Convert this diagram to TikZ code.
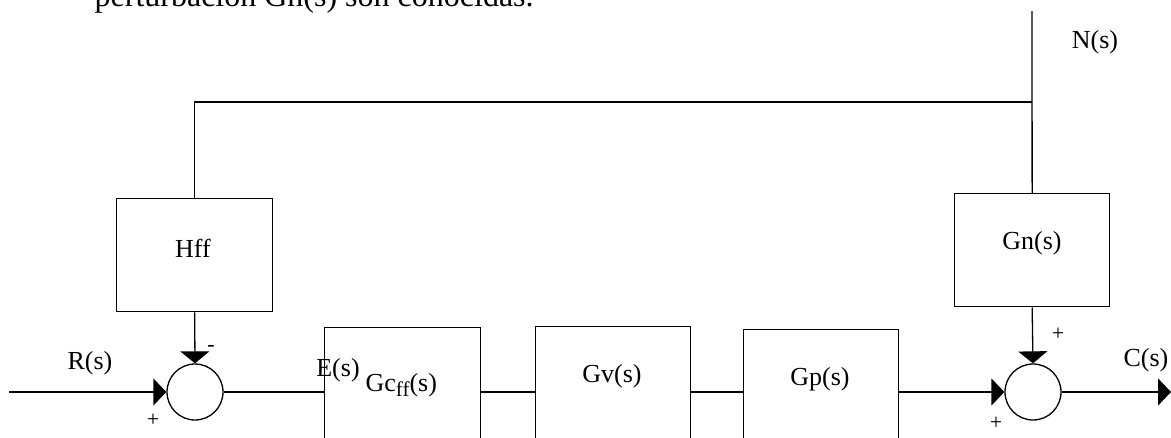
\documentclass[tikz,border=0pt]{standalone}
\usepackage{fontspec}
\setmainfont{Liberation Serif}
\usetikzlibrary{arrows.meta}
\begin{document}
\begin{tikzpicture}[x=1pt,y=-1pt,
  line width=1.3pt,
  block/.style={draw,rectangle,anchor=north west,inner sep=0pt},
  sumjunc/.style={draw,circle,minimum size=56pt,inner sep=0pt},
  lbl/.style={inner sep=0pt,font=\fontsize{26}{30}\selectfont},
  sgn/.style={inner sep=0pt,font=\fontsize{22}{26}\selectfont},
  sig/.style={-{Triangle[length=13pt,width=27pt]}},
  sigv/.style={-{Triangle[length=12pt,width=29pt]}}]
\useasboundingbox (0,0) rectangle (1171,437);
\clip (0,0) rectangle (1171,437);

% running text above the diagram
\node[anchor=base west,inner sep=0pt,font=\fontsize{32}{36}\selectfont] (txt) at (94,6) {perturbación Gn(s) son conocidas.};

% blocks
\node[block,minimum width=156pt,minimum height=113pt] (hff) at (116,198) {};
\node[block,minimum width=155pt,minimum height=113pt] (gn) at (954,193) {};
\node[block,minimum width=156pt,minimum height=160pt] (gc) at (324,327) {};
\node[block,minimum width=155pt,minimum height=160pt] (gv) at (535,326) {};
\node[block,minimum width=155pt,minimum height=160pt] (gp) at (743,329) {};

% summing junctions
\node[sumjunc] (s1) at (195,392) {};
\node[sumjunc] (s2) at (1033,392) {};

% block labels
\node[lbl] (lhff) at (193,248) {Hff};
\node[lbl] (lgn) at (1032,243) {Gn(s)};
\node[lbl,anchor=west] (lgc) at (365,385) {Gc\raisebox{-5pt}{\fontsize{21}{24}\selectfont ff}(s)};
\node[lbl] (lgv) at (612,376) {Gv(s)};
\node[lbl] (lgp) at (820,379) {Gp(s)};

% signal labels
\node[lbl] (lr) at (90,363) {R(s)};
\node[lbl] (le) at (338,370) {E(s)};
\node[lbl] (lc) at (1146,360) {C(s)};
\node[lbl] (ln) at (1095,42) {N(s)};

% signs
\node[sgn] (m1) at (211,348) {-};
\node[sgn] (p1) at (153,420) {+};
\node[sgn] (p2) at (1058,334) {+};
\node[sgn] (p3) at (996,423) {+};

% free ends and branch point
\coordinate (rin) at (9,392);
\coordinate (cout) at (1171,392);
\coordinate (ntop) at (1032,11);
\coordinate (br) at (1032,102);

% connectors
\draw[sig] (rin) -- (s1.west);
\draw (s1.east) -- (s1.east -| gc.west);
\draw (s1.east -| gc.east) -- (s1.east -| gv.west);
\draw (s1.east -| gv.east) -- (s1.east -| gp.west);
\draw[sig] (s2.west -| gp.east) -- (s2.west);
\draw[sig] (s2.east) -- (cout);
\draw (ntop) -- (gn.north);
\draw (br) -| (hff.north);
\draw[sigv] (hff.south) -- (s1.north);
\draw[sigv] (gn.south) -- (s2.north);
\end{tikzpicture}
\end{document}
